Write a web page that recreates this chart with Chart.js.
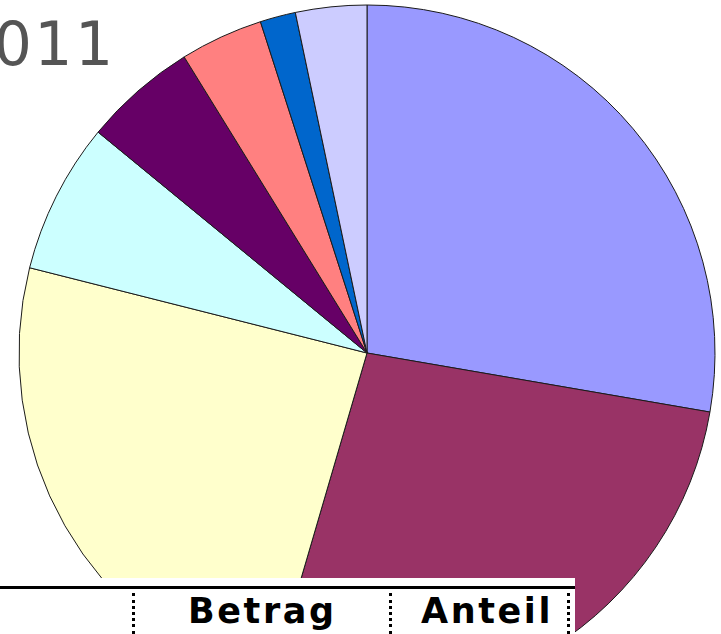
<!DOCTYPE html>
<html>
<head>
<meta charset="utf-8">
<script src="https://cdn.jsdelivr.net/npm/chart.js@4"></script>
<style>
  html, body { margin: 0; padding: 0; width: 721px; height: 634px; overflow: hidden; background: #fff; }
  #wrap { position: absolute; left: 0; top: 0; width: 734px; height: 706px; }
  #title { position: absolute; left: -47px; top: 14px; font-family: "DejaVu Sans", sans-serif; font-size: 60px; line-height: 60px; color: #555; letter-spacing: 2.5px; white-space: nowrap; }
  #tbl { position: absolute; left: 0; top: 578px; width: 575px; height: 56px; background: #fff; }
  #tbl .rule { position: absolute; left: 0; top: 586px; }
  .hline { position: absolute; left: 0; top: 8px; width: 575px; height: 3px; background: #000; }
  .vdot { position: absolute; top: 15px; height: 41px; width: 0; border-left: 3px dotted #000; }
  .hd { position: absolute; top: 13px; font-family: "DejaVu Sans", sans-serif; font-weight: bold; font-size: 35px; line-height: 40px; letter-spacing: 2.6px; color: #000; white-space: nowrap; }
</style>
</head>
<body>
<div id="wrap"><canvas id="c" width="734" height="706"></canvas></div>
<div id="title">2011</div>
<div id="tbl">
  <div class="hline"></div>
  <div class="vdot" style="left:132px"></div>
  <div class="vdot" style="left:389px"></div>
  <div class="vdot" style="left:567px"></div>
  <div class="hd" id="h1" style="left:188px">Betrag</div>
  <div class="hd" id="h2" style="left:421px">Anteil</div>
</div>
<script>
const categories = ["Posten 1", "Posten 2", "Posten 3", "Posten 4", "Posten 5", "Posten 6", "Posten 7", "Posten 8"];
const shares = [27.7, 26.8, 24.4, 7.0, 5.25, 3.85, 1.65, 3.3];
const sliceColors = ["#9999FF", "#993366", "#FFFFCC", "#CCFFFF", "#660066", "#FF8080", "#0066CC", "#CCCCFF"];
const titleText = "2011";
const tableHeaders = ["Betrag", "Anteil"];

document.getElementById("title").textContent = titleText;
document.getElementById("h1").textContent = tableHeaders[0];
document.getElementById("h2").textContent = tableHeaders[1];

new Chart(document.getElementById("c"), {
  type: "pie",
  data: {
    labels: categories,
    datasets: [{
      data: shares,
      backgroundColor: sliceColors,
      borderColor: "#1a1a1a",
      borderWidth: 1
    }]
  },
  options: {
    responsive: false,
    animation: false,
    radius: 348,
    layout: { padding: 0 },
    plugins: {
      legend: { display: false },
      tooltip: { enabled: false },
      title: { display: false }
    }
  }
});
</script>
</body>
</html>
